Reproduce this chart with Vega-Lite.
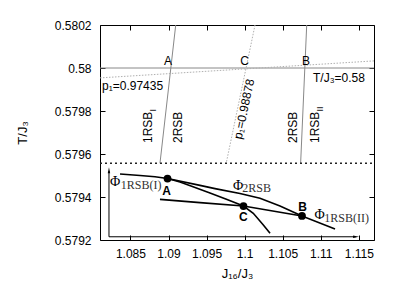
{
"$schema": "https://vega.github.io/schema/vega-lite/v6.json",
"width": 274, "height": 215,
"autosize": {"type": "none"},
"padding": {"left": 100, "top": 25, "right": 33, "bottom": 51},
"background": "white",
"config": {
  "view": {"stroke": "black", "strokeWidth": 1},
  "axis": {"domain": false, "grid": false, "tickColor": "black", "tickSize": -5, "tickWidth": 1,
    "labelFont": "Liberation Sans", "labelFontSize": 12, "labelColor": "black",
    "titleFont": "Liberation Sans", "titleFontSize": 13, "titleFontWeight": "normal", "titleColor": "black",
    "labelOverlap": false, "labelFlush": false}
},
"datasets": {
  "ref_solid": [
    {"id": "h", "o": 0, "x": 1.081, "y": 0.58}, {"id": "h", "o": 1, "x": 1.117, "y": 0.58},
    {"id": "a", "o": 0, "x": 1.09095, "y": 0.5802}, {"id": "a", "o": 1, "x": 1.08888, "y": 0.579557},
    {"id": "b", "o": 0, "x": 1.10816, "y": 0.5802}, {"id": "b", "o": 1, "x": 1.10736, "y": 0.579557}
  ],
  "ref_dash": [
    {"id": "s", "o": 0, "x": 1.081, "y": 0.579954}, {"id": "s", "o": 1, "x": 1.117, "y": 0.580033},
    {"id": "c", "o": 0, "x": 1.10137, "y": 0.5802}, {"id": "c", "o": 1, "x": 1.09758, "y": 0.579557}
  ],
  "sep": [{"x": 1.081, "y": 0.579557}, {"x": 1.117, "y": 0.579557}],
  "arrows": [
    {"id": "v", "o": 0, "x": 1.08218, "y": 0.579215}, {"id": "v", "o": 1, "x": 1.08218, "y": 0.57952},
    {"id": "h", "o": 0, "x": 1.08218, "y": 0.579215}, {"id": "h", "o": 1, "x": 1.1146, "y": 0.579215}
  ],
  "heads": [{"dir": "up", "x": 1.08218, "y": 0.579524}, {"dir": "right", "x": 1.11464, "y": 0.579215}],
  "curves": [
    {"c": "I", "o": 0, "x": 1.08363, "y": 0.579507},
    {"c": "I", "o": 1, "x": 1.08626, "y": 0.5795},
    {"c": "I", "o": 2, "x": 1.08823, "y": 0.579494},
    {"c": "I", "o": 3, "x": 1.08987, "y": 0.579486},
    {"c": "I", "o": 4, "x": 1.09151, "y": 0.57947},
    {"c": "I", "o": 5, "x": 1.09322, "y": 0.579448},
    {"c": "I", "o": 6, "x": 1.09545, "y": 0.579419},
    {"c": "I", "o": 7, "x": 1.09769, "y": 0.579388},
    {"c": "I", "o": 8, "x": 1.09985, "y": 0.579358},
    {"c": "I", "o": 9, "x": 1.10114, "y": 0.579324},
    {"c": "I", "o": 10, "x": 1.10246, "y": 0.57927},
    {"c": "I", "o": 11, "x": 1.10334, "y": 0.579231},
    {"c": "2", "o": 0, "x": 1.08987, "y": 0.579486},
    {"c": "2", "o": 1, "x": 1.09414, "y": 0.579454},
    {"c": "2", "o": 2, "x": 1.09611, "y": 0.579439},
    {"c": "2", "o": 3, "x": 1.09939, "y": 0.579416},
    {"c": "2", "o": 4, "x": 1.10202, "y": 0.579394},
    {"c": "2", "o": 5, "x": 1.10465, "y": 0.579358},
    {"c": "2", "o": 6, "x": 1.10754, "y": 0.579312},
    {"c": "II", "o": 0, "x": 1.08888, "y": 0.579389},
    {"c": "II", "o": 1, "x": 1.09414, "y": 0.579374},
    {"c": "II", "o": 2, "x": 1.09985, "y": 0.579358},
    {"c": "II", "o": 3, "x": 1.10754, "y": 0.579312},
    {"c": "II", "o": 4, "x": 1.11188, "y": 0.579251}
  ],
  "pts": [{"x": 1.08987, "y": 0.579486}, {"x": 1.09985, "y": 0.579358}, {"x": 1.10754, "y": 0.579312}],
  "t_top": [{"t": "A", "x": 1.08993, "y": 0.580014}, {"t": "C", "x": 1.09999, "y": 0.580014}, {"t": "B", "x": 1.10807, "y": 0.580014}],
  "t_left": [{"t": "p₁=0.97435", "x": 1.08126, "y": 0.579898}, {"t": "T/J₃=0.58", "x": 1.10899, "y": 0.579935}],
  "t_rot": [
    {"t": "1RSB", "x": 1.08783, "y": 0.579651}, {"t": "2RSB", "x": 1.09171, "y": 0.579651},
    {"t": "2RSB", "x": 1.10682, "y": 0.579651}, {"t": "1RSB", "x": 1.10977, "y": 0.579651}
  ],
  "t_rotsub": [{"t": "I", "x": 1.08836, "y": 0.579798}, {"t": "II", "x": 1.1103, "y": 0.579798}],
  "t_p2": [{"t": "p₁=0.98878", "x": 1.09992, "y": 0.579809}],
  "t_phi": [{"t": "Φ", "x": 1.08231, "y": 0.579451}, {"t": "Φ", "x": 1.09847, "y": 0.579433}, {"t": "Φ", "x": 1.10918, "y": 0.579298}],
  "t_phisub": [{"t": "1RSB(I)", "x": 1.08372, "y": 0.579437}, {"t": "2RSB", "x": 1.0997, "y": 0.579423}, {"t": "1RSB(II)", "x": 1.11047, "y": 0.579284}],
  "t_pts": [{"t": "A", "x": 1.08976, "y": 0.579409}, {"t": "C", "x": 1.09983, "y": 0.57929}, {"t": "B", "x": 1.10761, "y": 0.579336}]
},
"encoding": {
  "x": {"field": "x", "type": "quantitative", "scale": {"domain": [1.081, 1.117], "nice": false, "zero": false}, "axis": null},
  "y": {"field": "y", "type": "quantitative", "scale": {"domain": [0.5792, 0.5802], "nice": false, "zero": false}, "axis": null}
},
"layer": [
  {
    "data": {"name": "ref_solid"},
    "mark": {"type": "line", "color": "#888888", "strokeWidth": 1},
    "encoding": {
      "x": {"field": "x", "type": "quantitative", "scale": {"domain": [1.081, 1.117], "nice": false, "zero": false},
        "axis": {"orient": "bottom", "values": [1.085, 1.09, 1.095, 1.1, 1.105, 1.11, 1.115], "format": ".3~f", "labelPadding": 13, "title": "J₁₆/J₃", "titlePadding": 8}},
      "y": {"field": "y", "type": "quantitative", "scale": {"domain": [0.5792, 0.5802], "nice": false, "zero": false},
        "axis": {"orient": "left", "values": [0.5792, 0.5794, 0.5796, 0.5798, 0.58, 0.5802], "format": ".4~f", "labelPadding": 14, "title": "T/J₃", "titlePadding": 25}},
      "detail": {"field": "id"},
      "order": {"field": "o"}
    }
  },
  {
    "data": {"name": "ref_dash"},
    "mark": {"type": "line", "color": "#b0b0b0", "strokeWidth": 1, "strokeDash": [1.5, 1.5]},
    "encoding": {
      "x": {"field": "x", "type": "quantitative", "scale": {"domain": [1.081, 1.117], "nice": false, "zero": false},
        "axis": {"orient": "top", "values": [1.085, 1.09, 1.095, 1.1, 1.105, 1.11, 1.115], "labels": false, "title": null}},
      "y": {"field": "y", "type": "quantitative", "scale": {"domain": [0.5792, 0.5802], "nice": false, "zero": false},
        "axis": {"orient": "right", "values": [0.5792, 0.5794, 0.5796, 0.5798, 0.58, 0.5802], "labels": false, "title": null}},
      "detail": {"field": "id"},
      "order": {"field": "o"}
    }
  },
  {
    "data": {"name": "sep"},
    "mark": {"type": "line", "color": "#222222", "strokeWidth": 1.6, "strokeDash": [2, 3]}
  },
  {
    "data": {"name": "arrows"},
    "mark": {"type": "line", "color": "black", "strokeWidth": 1},
    "encoding": {"detail": {"field": "id"}, "order": {"field": "o"}}
  },
  {
    "data": {"name": "heads"},
    "mark": {"type": "point", "filled": true, "color": "black", "opacity": 1, "size": 36},
    "encoding": {"shape": {"field": "dir", "type": "nominal", "scale": {"domain": ["up", "right"], "range": ["M0,-1L0.4,1L-0.4,1Z", "M1,0L-1,0.4L-1,-0.4Z"]}, "legend": null}}
  },
  {
    "data": {"name": "curves"},
    "mark": {"type": "line", "color": "black", "strokeWidth": 1.6},
    "encoding": {"detail": {"field": "c"}, "order": {"field": "o"}}
  },
  {
    "data": {"name": "pts"},
    "mark": {"type": "point", "filled": true, "color": "black", "opacity": 1, "size": 60, "shape": "circle"}
  },
  {
    "data": {"name": "t_top"},
    "mark": {"type": "text", "font": "Liberation Sans", "fontSize": 12, "color": "black", "align": "center", "baseline": "alphabetic"},
    "encoding": {"text": {"field": "t"}}
  },
  {
    "data": {"name": "t_left"},
    "mark": {"type": "text", "font": "Liberation Sans", "fontSize": 12, "color": "black", "align": "left", "baseline": "alphabetic"},
    "encoding": {"text": {"field": "t"}}
  },
  {
    "data": {"name": "t_rot"},
    "mark": {"type": "text", "font": "Liberation Sans", "fontSize": 12, "color": "black", "align": "left", "baseline": "alphabetic", "angle": -90},
    "encoding": {"text": {"field": "t"}}
  },
  {
    "data": {"name": "t_rotsub"},
    "mark": {"type": "text", "font": "Liberation Sans", "fontSize": 9, "color": "black", "align": "left", "baseline": "alphabetic", "angle": -90},
    "encoding": {"text": {"field": "t"}}
  },
  {
    "data": {"name": "t_p2"},
    "mark": {"type": "text", "font": "Liberation Sans", "fontSize": 12, "color": "black", "align": "center", "baseline": "middle", "angle": -78},
    "encoding": {"text": {"field": "t"}}
  },
  {
    "data": {"name": "t_phi"},
    "mark": {"type": "text", "font": "Liberation Serif", "fontSize": 14, "color": "black", "align": "left", "baseline": "alphabetic"},
    "encoding": {"text": {"field": "t"}}
  },
  {
    "data": {"name": "t_phisub"},
    "mark": {"type": "text", "font": "Liberation Serif", "fontSize": 12, "color": "#333333", "align": "left", "baseline": "alphabetic"},
    "encoding": {"text": {"field": "t"}}
  },
  {
    "data": {"name": "t_pts"},
    "mark": {"type": "text", "font": "Liberation Sans", "fontSize": 12, "fontWeight": "bold", "color": "black", "align": "center", "baseline": "alphabetic"},
    "encoding": {"text": {"field": "t"}}
  }
],
"resolve": {"axis": {"x": "independent", "y": "independent"}}
}
